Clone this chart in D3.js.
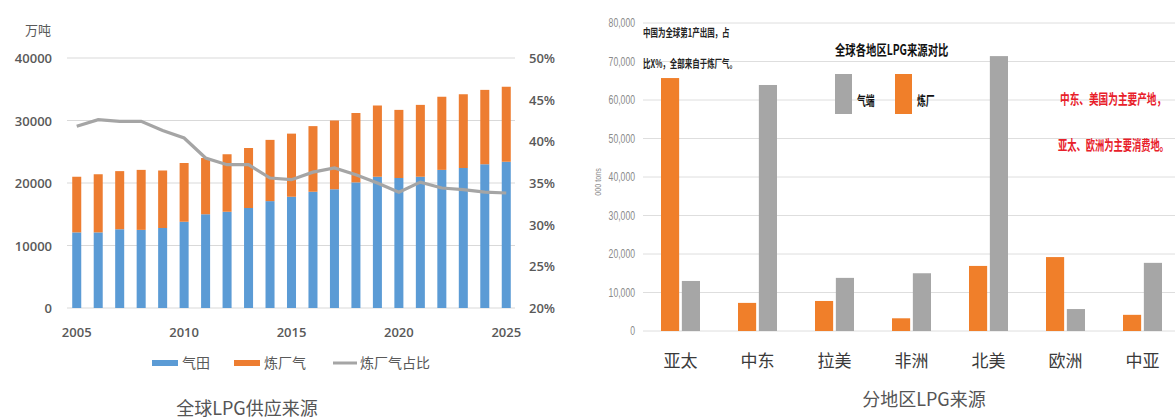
<!DOCTYPE html>
<html>
<head>
<meta charset="utf-8">
<script src="https://cdn.jsdelivr.net/npm/d3@7"></script>
<style>
  body { margin: 0; background: #fff; }
  svg { display: block; }
  text { font-family: "Noto Sans CJK SC", "Noto Sans", sans-serif; }
</style>
</head>
<body>
<svg id="chart" width="1175" height="419"></svg>
<script>
// left chart: global LPG supply (万吨) and refinery share
var years = d3.range(2005, 2026);
var gasField = [12100, 12100, 12600, 12500, 12800, 13800, 15000, 15400, 16000, 17100, 17800,
                18600, 19000, 20100, 21000, 20800, 21000, 22100, 22400, 23000, 23400];
var totalSupply = [21000, 21400, 21900, 22100, 22000, 23200, 24000, 24600, 25600, 26900, 27900,
                   29100, 30000, 31200, 32400, 31700, 32500, 33800, 34200, 34900, 35400];
var refineryShare = [41.8, 42.6, 42.4, 42.4, 41.3, 40.4, 38.0, 37.2, 37.2, 35.6, 35.4,
                     36.3, 36.8, 36.0, 35.0, 33.9, 35.1, 34.4, 34.2, 33.9, 33.8];
var leftTicks = [0, 10000, 20000, 30000, 40000];
var rightTicks = [20, 25, 30, 35, 40, 45, 50];
var yearLabels = [2005, 2010, 2015, 2020, 2025];

// right chart: LPG sources by region (000 tons)
var regions = ["亚太", "中东", "拉美", "非洲", "北美", "欧洲", "中亚"];
var refinery = [65700, 7300, 7800, 3300, 16900, 19200, 4200];
var gasSide = [13000, 63900, 13800, 15000, 71400, 5700, 17700];
var regionTicks = [0, 10000, 20000, 30000, 40000, 50000, 60000, 70000, 80000];

var svg = d3.select("#chart");
var BLUE = "#5B9BD5", ORANGE = "#ED7D31", GRAY = "#A5A5A5";

// ---------- left chart ----------
var left = svg.append("g");
var x = d3.scaleBand().domain(years).range([66, 517]).paddingInner(0.58).paddingOuter(0.29);
var y = d3.scaleLinear().domain([0, 40000]).range([308, 58]);
var yPct = d3.scaleLinear().domain([20, 50]).range([308, 58]);

left.selectAll("line.grid").data(leftTicks).enter().append("line")
  .attr("class", "grid")
  .attr("x1", 67).attr("x2", 515)
  .attr("y1", function(d) { return y(d); }).attr("y2", function(d) { return y(d); })
  .style("stroke", "#d9d9d9").style("stroke-width", 1);

left.selectAll("text.yl").data(leftTicks).enter().append("text")
  .attr("class", "yl")
  .attr("x", 52).attr("y", function(d) { return y(d) + 5; })
  .attr("text-anchor", "end")
  .style("font-family", "'Open Sans', sans-serif").style("font-weight", 600)
  .style("font-size", "13px").style("fill", "#595959")
  .text(function(d) { return d; });

left.selectAll("text.yr").data(rightTicks).enter().append("text")
  .attr("class", "yr")
  .attr("x", 529).attr("y", function(d) { return yPct(d) + 5; })
  .style("font-family", "'Open Sans', sans-serif").style("font-weight", 600)
  .style("font-size", "13px").style("fill", "#595959")
  .text(function(d) { return d + "%"; });

left.append("text").attr("x", 25).attr("y", 35)
  .style("font-size", "13px").style("fill", "#595959").text("万吨");

// stacked bars
left.selectAll("rect.gas").data(years).enter().append("rect")
  .attr("class", "gas")
  .attr("x", function(d) { return x(d); })
  .attr("width", x.bandwidth())
  .attr("y", function(d, i) { return y(gasField[i]); })
  .attr("height", function(d, i) { return y(0) - y(gasField[i]); })
  .style("fill", BLUE);

left.selectAll("rect.ref").data(years).enter().append("rect")
  .attr("class", "ref")
  .attr("x", function(d) { return x(d); })
  .attr("width", x.bandwidth())
  .attr("y", function(d, i) { return y(totalSupply[i]); })
  .attr("height", function(d, i) { return y(gasField[i]) - y(totalSupply[i]); })
  .style("fill", ORANGE);

// refinery share line
var line = d3.line()
  .x(function(d, i) { return x(years[i]) + x.bandwidth() / 2; })
  .y(function(d) { return yPct(d); });
left.append("path").datum(refineryShare)
  .attr("d", line)
  .style("fill", "none").style("stroke", GRAY).style("stroke-width", 3.2);

left.selectAll("text.xl").data(yearLabels).enter().append("text")
  .attr("class", "xl")
  .attr("x", function(d) { return x(d) + x.bandwidth() / 2; })
  .attr("y", 337)
  .attr("text-anchor", "middle")
  .style("font-family", "'Open Sans', sans-serif").style("font-weight", 600)
  .style("font-size", "13px").style("fill", "#595959")
  .text(function(d) { return d; });

// legend
var lg = left.append("g").style("font-size", "14px").style("fill", "#595959");
lg.append("rect").attr("x", 152).attr("y", 360).attr("width", 26).attr("height", 6).style("fill", BLUE);
lg.append("text").attr("x", 182).attr("y", 368).text("气田");
lg.append("rect").attr("x", 234).attr("y", 360).attr("width", 26).attr("height", 6).style("fill", ORANGE);
lg.append("text").attr("x", 264).attr("y", 368).text("炼厂气");
lg.append("line").attr("x1", 333).attr("x2", 357).attr("y1", 363).attr("y2", 363)
  .style("stroke", GRAY).style("stroke-width", 3);
lg.append("text").attr("x", 360).attr("y", 368).text("炼厂气占比");

left.append("text").attr("x", 247).attr("y", 415).attr("text-anchor", "middle")
  .style("font-size", "18px").style("fill", "#555").text("全球LPG供应来源");

// ---------- right chart ----------
var right = svg.append("g");
var x0 = d3.scaleBand().domain(regions).range([642, 1181]);
var x1 = d3.scaleBand().domain(["refinery", "gas"]).range([0, 39]).paddingInner(0.13);
var yr = d3.scaleLinear().domain([0, 80000]).range([331, 23]);
var groupOffset = (x0.bandwidth() - 39) / 2;

right.selectAll("line.grid").data(regionTicks).enter().append("line")
  .attr("class", "grid")
  .attr("x1", 643).attr("x2", 1175)
  .attr("y1", function(d) { return yr(d); }).attr("y2", function(d) { return yr(d); })
  .style("stroke", "#dedede").style("stroke-width", 1);

right.selectAll("text.yl").data(regionTicks).enter().append("text")
  .attr("class", "yl")
  .attr("transform", function(d) { return "translate(635," + (yr(d) + 4) + ") scale(0.72,1)"; })
  .attr("text-anchor", "end")
  .style("font-family", "'Liberation Sans', sans-serif")
  .style("font-size", "12px").style("fill", "#8a8a8a")
  .text(function(d) { return d3.format(",")(d); });

right.append("text")
  .attr("transform", "translate(601,182) rotate(-90) scale(0.8,1)")
  .attr("text-anchor", "middle")
  .style("font-family", "'Liberation Sans', sans-serif")
  .style("font-size", "9px").style("fill", "#8a8a8a")
  .text("000 tons");

right.selectAll("rect.ref").data(regions).enter().append("rect")
  .attr("class", "ref")
  .attr("x", function(d) { return x0(d) + groupOffset + x1("refinery"); })
  .attr("width", x1.bandwidth())
  .attr("y", function(d, i) { return yr(refinery[i]); })
  .attr("height", function(d, i) { return yr(0) - yr(refinery[i]); })
  .style("fill", "#F07F2A");

right.selectAll("rect.gas").data(regions).enter().append("rect")
  .attr("class", "gas")
  .attr("x", function(d) { return x0(d) + groupOffset + x1("gas"); })
  .attr("width", x1.bandwidth())
  .attr("y", function(d, i) { return yr(gasSide[i]); })
  .attr("height", function(d, i) { return yr(0) - yr(gasSide[i]); })
  .style("fill", "#A6A6A6");

right.selectAll("text.xl").data(regions).enter().append("text")
  .attr("class", "xl")
  .attr("x", function(d) { return x0(d) + x0.bandwidth() / 2; })
  .attr("y", 367)
  .attr("text-anchor", "middle")
  .style("font-size", "17px").style("fill", "#3a3a3a")
  .text(function(d) { return d; });

// annotations (condensed with a horizontal scale)
function squeezed(g, tx, ty, sx, txt) {
  return g.append("text").attr("transform", "translate(" + tx + "," + ty + ") scale(" + sx + ",1)").text(txt);
}
var note = right.append("g").style("fill", "#222").style("font-size", "11px").style("font-weight", 700);
squeezed(note, 643, 37, 0.68, "中国为全球第1产出国，占");
squeezed(note, 643, 68, 0.68, "比X%，全部来自于炼厂气。");

var ttl = right.append("g").style("font-size", "14px").style("font-weight", 700).style("fill", "#111");
squeezed(ttl, 835, 55, 0.74, "全球各地区LPG来源对比");

right.append("rect").attr("x", 835).attr("y", 74).attr("width", 17).attr("height", 40).style("fill", "#A6A6A6");
right.append("rect").attr("x", 895).attr("y", 74).attr("width", 17).attr("height", 40).style("fill", "#F07F2A");
var leg = right.append("g").style("font-size", "13px").style("font-weight", 700).style("fill", "#111");
squeezed(leg, 857, 105, 0.68, "气端");
squeezed(leg, 917, 105, 0.68, "炼厂");

var red = right.append("g").style("fill", "#E8202A").style("font-size", "14px").style("font-weight", 700);
squeezed(red, 1060, 104, 0.69, "中东、美国为主要产地，");
squeezed(red, 1058, 150, 0.66, "亚太、欧洲为主要消费地。");

right.append("text").attr("x", 924).attr("y", 406).attr("text-anchor", "middle")
  .style("font-size", "18px").style("fill", "#555").text("分地区LPG来源");
</script>
</body>
</html>
